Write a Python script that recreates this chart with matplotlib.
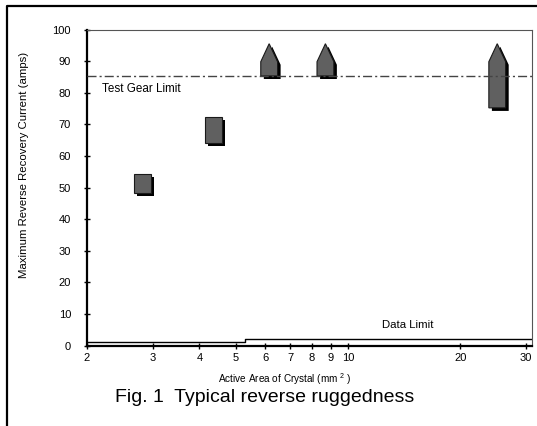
import matplotlib
matplotlib.use("Agg")
import matplotlib.pyplot as plt
import matplotlib.patheffects as pe
from matplotlib.patches import Polygon
from matplotlib.lines import Line2D
import numpy as np

plt.rcParams['font.family'] = ['Liberation Sans', 'DejaVu Sans']
plt.rcParams['mathtext.fontset'] = 'custom'
plt.rcParams['mathtext.rm'] = 'Liberation Sans'

# ---- data ----
square_x = [2.82, 4.37]
square_lo = [48.4, 64.0]
square_hi = [54.3, 72.4]

arrow_x = [6.15, 8.7, 25.1]
arrow_lo = [85.3, 85.3, 75.2]
arrow_hi = [95.5, 95.5, 95.5]
arrow_tip = 5.7

test_gear_limit = 85.3
data_limit_x = [2.0, 5.3, 31.1]
data_limit_y = [1.0, 2.05, 2.05]

x_ticks = [2, 3, 4, 5, 6, 7, 8, 9, 10, 20, 30]
y_ticks = list(range(0, 101, 10))

fig = plt.figure(figsize=(5.37, 4.26), dpi=100)
ax = fig.add_axes([87/537, 1-345.5/426, (532-87)/537, (345.5-29.5)/426])
ax.set_xscale('log')
ax.set_xlim(2, 31.1)
ax.set_ylim(0, 100)

half = 10**0.0225
shadow = [pe.SimplePatchShadow(offset=(2.2, -2.2), shadow_rgbFace='black', alpha=1.0, rho=1), pe.Normal()]

for x, lo, hi in zip(square_x, square_lo, square_hi):
    verts = [(x/half, lo), (x*half, lo), (x*half, hi), (x/half, hi)]
    p = Polygon(verts, closed=True, facecolor='#606060', edgecolor='#1a1a1a', lw=0.8, zorder=3)
    p.set_path_effects(shadow)
    ax.add_patch(p)

for x, lo, hi in zip(arrow_x, arrow_lo, arrow_hi):
    sh = hi - arrow_tip
    verts = [(x/half, lo), (x*half, lo), (x*half, sh), (x, hi), (x/half, sh)]
    p = Polygon(verts, closed=True, facecolor='#606060', edgecolor='#1a1a1a', lw=0.8, zorder=3)
    p.set_path_effects(shadow)
    ax.add_patch(p)

ax.axhline(test_gear_limit, color='#444444', lw=1.0, linestyle=(0, (6.5, 2.2, 1.5, 2.2)), zorder=4)
ax.text(2.19, 81.3, 'Test Gear Limit', fontsize=8.4, va='center', ha='left')

ax.step(data_limit_x, data_limit_y, where='post', color='black', lw=1.0, zorder=2)
ax.text(12.3, 6.5, 'Data Limit', fontsize=8.2, va='center', ha='left')

ax.set_xticks(x_ticks)
ax.set_xticklabels([str(t) for t in x_ticks])
ax.xaxis.set_minor_locator(matplotlib.ticker.NullLocator())
ax.set_yticks(y_ticks)
ax.tick_params(direction='inout', length=5, width=1, labelsize=8, colors='black')
ax.tick_params(axis='y', pad=9)
ax.tick_params(axis='x', pad=3)

for s in ['left', 'bottom']:
    ax.spines[s].set_linewidth(1.6)
    ax.spines[s].set_color('black')
for s in ['top', 'right']:
    ax.spines[s].set_linewidth(0.8)
    ax.spines[s].set_color('#555555')

fig.text(24/537, 1-165/426, 'Maximum Reverse Recovery Current (amps)', fontsize=8.2,
         rotation=90, ha='center', va='center')
fig.text(285/537, 1-379/426, 'Active Area of Crystal (mm $^{2}$ )', fontsize=7.2,
         ha='center', va='center')

fig.text(0.5*(112+417)/537, 1-397/426, 'Fig. 1  Typical reverse ruggedness', fontsize=14, ha='center', va='center')

fig.add_artist(Line2D([7/537, 7/537, 1.0], [0.0, 1-6/426, 1-6/426], transform=fig.transFigure, color='black', lw=1.6))

fig.savefig('out.png', dpi=100)
